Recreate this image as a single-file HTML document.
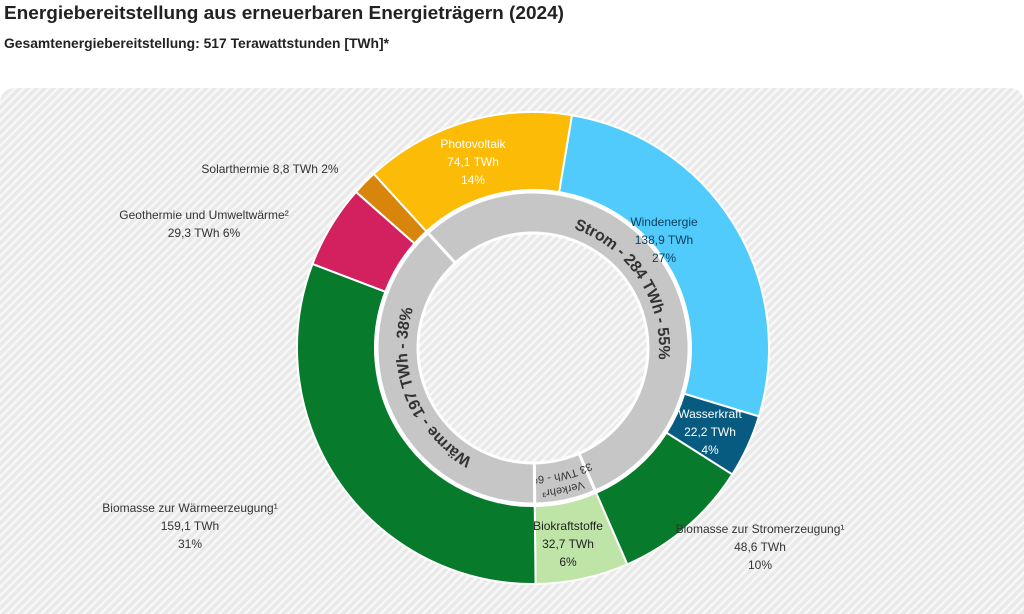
<!DOCTYPE html>
<html><head><meta charset="utf-8"><style>
html,body{margin:0;padding:0;background:#fff;}
svg{display:block;font-family:"Liberation Sans",sans-serif;}
</style></head><body>
<svg id="chart" width="1024" height="614" viewBox="0 0 1024 614">
<defs>
<pattern id="hatch" width="6" height="6" patternUnits="userSpaceOnUse" patternTransform="rotate(45)">
<rect width="6" height="6" fill="#e9e9e9"/><rect width="2.5" height="6" fill="#f8f8f8"/>
</pattern>
</defs>
<text x="4" y="19" font-size="18" font-weight="bold" fill="#222" textLength="560" lengthAdjust="spacingAndGlyphs">Energiebereitstellung aus erneuerbaren Energieträgern (2024)</text>
<text x="4" y="48" font-size="14" font-weight="bold" fill="#222" textLength="385" lengthAdjust="spacingAndGlyphs">Gesamtenergiebereitstellung: 517 Terawattstunden [TWh]*</text>
<path d="M0,104 Q0,88 16,88 L1008,88 Q1024,88 1024,104 L1024,614 L0,614 Z" fill="url(#hatch)"/>
<g id="outer"></g>
<g id="inner"></g>
<g id="labels"></g>
</svg>
<script>
const categories=["Windenergie","Wasserkraft","Biomasse zur Stromerzeugung¹","Biokraftstoffe","Biomasse zur Wärmeerzeugung¹","Geothermie und Umweltwärme²","Solarthermie","Photovoltaik"];
const values=[138.9,22.2,48.6,32.7,159.1,29.3,8.8,74.1];
const valueLabels=["138,9 TWh","22,2 TWh","48,6 TWh","32,7 TWh","159,1 TWh","29,3 TWh","8,8 TWh","74,1 TWh"];
const percentLabels=["27%","4%","10%","6%","31%","6%","2%","14%"];
const colors=["#50cbfb","#075b80","#087a2c","#bfe4a8","#087a2c","#d3205f","#d7860b","#fbbb06"];
const groups=["Strom","Verkehr³","Wärme"];
const groupMembers=[[7,0,1,2],[3],[4,5,6]];
const groupLabels=["Strom - 284 TWh - 55%","33 TWh - 6%","Wärme - 197 TWh - 38%"];

const NS="http://www.w3.org/2000/svg";
const cx=533,cy=348,R=236,r=158,gR=156,gr=115;
const startDeg=9.5;
const total=values.reduce((a,b)=>a+b,0);
function angleOf(v){return startDeg+v/total*360;}
function pt(rad,deg){const a=(deg-90)*Math.PI/180;return [cx+rad*Math.cos(a),cy+rad*Math.sin(a)];}
function arcPath(r1,r2,a0,a1){
  const large=(a1-a0)>180?1:0;
  const p1=pt(r2,a0),p2=pt(r2,a1),p3=pt(r1,a1),p4=pt(r1,a0);
  return `M${p1[0]},${p1[1]} A${r2},${r2} 0 ${large} 1 ${p2[0]},${p2[1]} L${p3[0]},${p3[1]} A${r1},${r1} 0 ${large} 0 ${p4[0]},${p4[1]} Z`;
}
const cum=[0];values.forEach(v=>cum.push(cum[cum.length-1]+v));
const outer=document.getElementById('outer');
values.forEach((v,i)=>{
  const p=document.createElementNS(NS,'path');
  p.setAttribute('d',arcPath(r,R,angleOf(cum[i]),angleOf(cum[i+1])));
  p.setAttribute('fill',colors[i]);
  p.setAttribute('stroke','#fff');p.setAttribute('stroke-width','2');
  
  
  outer.appendChild(p);
});
// inner ring
const inner=document.getElementById('inner');
const defs=document.querySelector('defs');
groupMembers.forEach((m,gi)=>{
  const sum=m.reduce((s,i)=>s+values[i],0);
  let a0=angleOf(cum[m[0]]);
  let a1=a0+sum/total*360;
  const p=document.createElementNS(NS,'path');
  p.setAttribute('d',arcPath(gr,gR,a0,a1));
  p.setAttribute('fill','#c6c6c6');
  p.setAttribute('stroke','#fff');p.setAttribute('stroke-width','3');
  
  
  inner.appendChild(p);
  // path for label
  const mid=(a0+a1)/2;
  const tp=document.createElementNS(NS,'path');
  const rad=gi===1?132:130;
  const span=gi===1?60:100;
  const s=pt(rad,mid-span/2),e=pt(rad,mid+span/2);
  tp.setAttribute('id','gp'+gi);
  tp.setAttribute('d',`M${s[0]},${s[1]} A${rad},${rad} 0 0 1 ${e[0]},${e[1]}`);
  tp.setAttribute('fill','none');
  defs.appendChild(tp);
  if(gi===1){
    // two lines
    [[groups[1],142],[groupLabels[1],128]].forEach((ln,k)=>{
      const pp=document.createElementNS(NS,'path');
      const ss=pt(ln[1],mid-30),ee=pt(ln[1],mid+30);
      pp.setAttribute('id','gv'+k);
      pp.setAttribute('d',`M${ss[0]},${ss[1]} A${ln[1]},${ln[1]} 0 0 1 ${ee[0]},${ee[1]}`);
      defs.appendChild(pp);
      const t=document.createElementNS(NS,'text');
      t.setAttribute('font-size','11');t.setAttribute('fill','#333');
      
      
      const tpath=document.createElementNS(NS,'textPath');
      tpath.setAttribute('href','#gv'+k);tpath.setAttribute('startOffset','50%');tpath.setAttribute('text-anchor','middle');
      tpath.textContent=ln[0];t.appendChild(tpath);inner.appendChild(t);
    });
  } else {
    const t=document.createElementNS(NS,'text');
    t.setAttribute('font-size','16');t.setAttribute('font-weight','bold');t.setAttribute('fill','#333');
    t.setAttribute('dominant-baseline','middle');
    
    
    const tpath=document.createElementNS(NS,'textPath');
    tpath.setAttribute('href','#gp'+gi);tpath.setAttribute('startOffset','50%');tpath.setAttribute('text-anchor','middle');
    tpath.textContent=groupLabels[gi];t.appendChild(tpath);inner.appendChild(t);
  }
});
// segment labels
const labelPos=[
 {x:664,y:226,c:"#0b3f5c",fs:12,inside:true},
 {x:710,y:418,c:"#fff",fs:12,inside:true},
 {x:760,y:533,c:"#333",fs:12},
 {x:568,y:530,c:"#222",fs:12,inside:true},
 {x:190,y:512,c:"#333",fs:12},
 {x:204,y:219,c:"#333",fs:12,two:true},
 {x:270,y:173,c:"#333",fs:12,one:true},
 {x:473,y:148,c:"#fff",fs:12,inside:true}
];
const lg=document.getElementById('labels');
categories.forEach((c,i)=>{
  const L=labelPos[i];
  const lines=L.one?[c+" "+valueLabels[i]+" "+percentLabels[i]]:L.two?[c,valueLabels[i]+" "+percentLabels[i]]:[c,valueLabels[i],percentLabels[i]];
  const t=document.createElementNS(NS,'text');
  t.setAttribute('x',L.x);t.setAttribute('y',L.y);t.setAttribute('font-size',L.fs);
  t.setAttribute('fill',L.c);t.setAttribute('text-anchor','middle');
  
  
  lines.forEach((ln,k)=>{
    const s=document.createElementNS(NS,'tspan');
    s.setAttribute('x',L.x);s.setAttribute('dy',k?'18':'0');
    s.textContent=ln;t.appendChild(s);
  });
  lg.appendChild(t);
});
</script>
</body></html>
